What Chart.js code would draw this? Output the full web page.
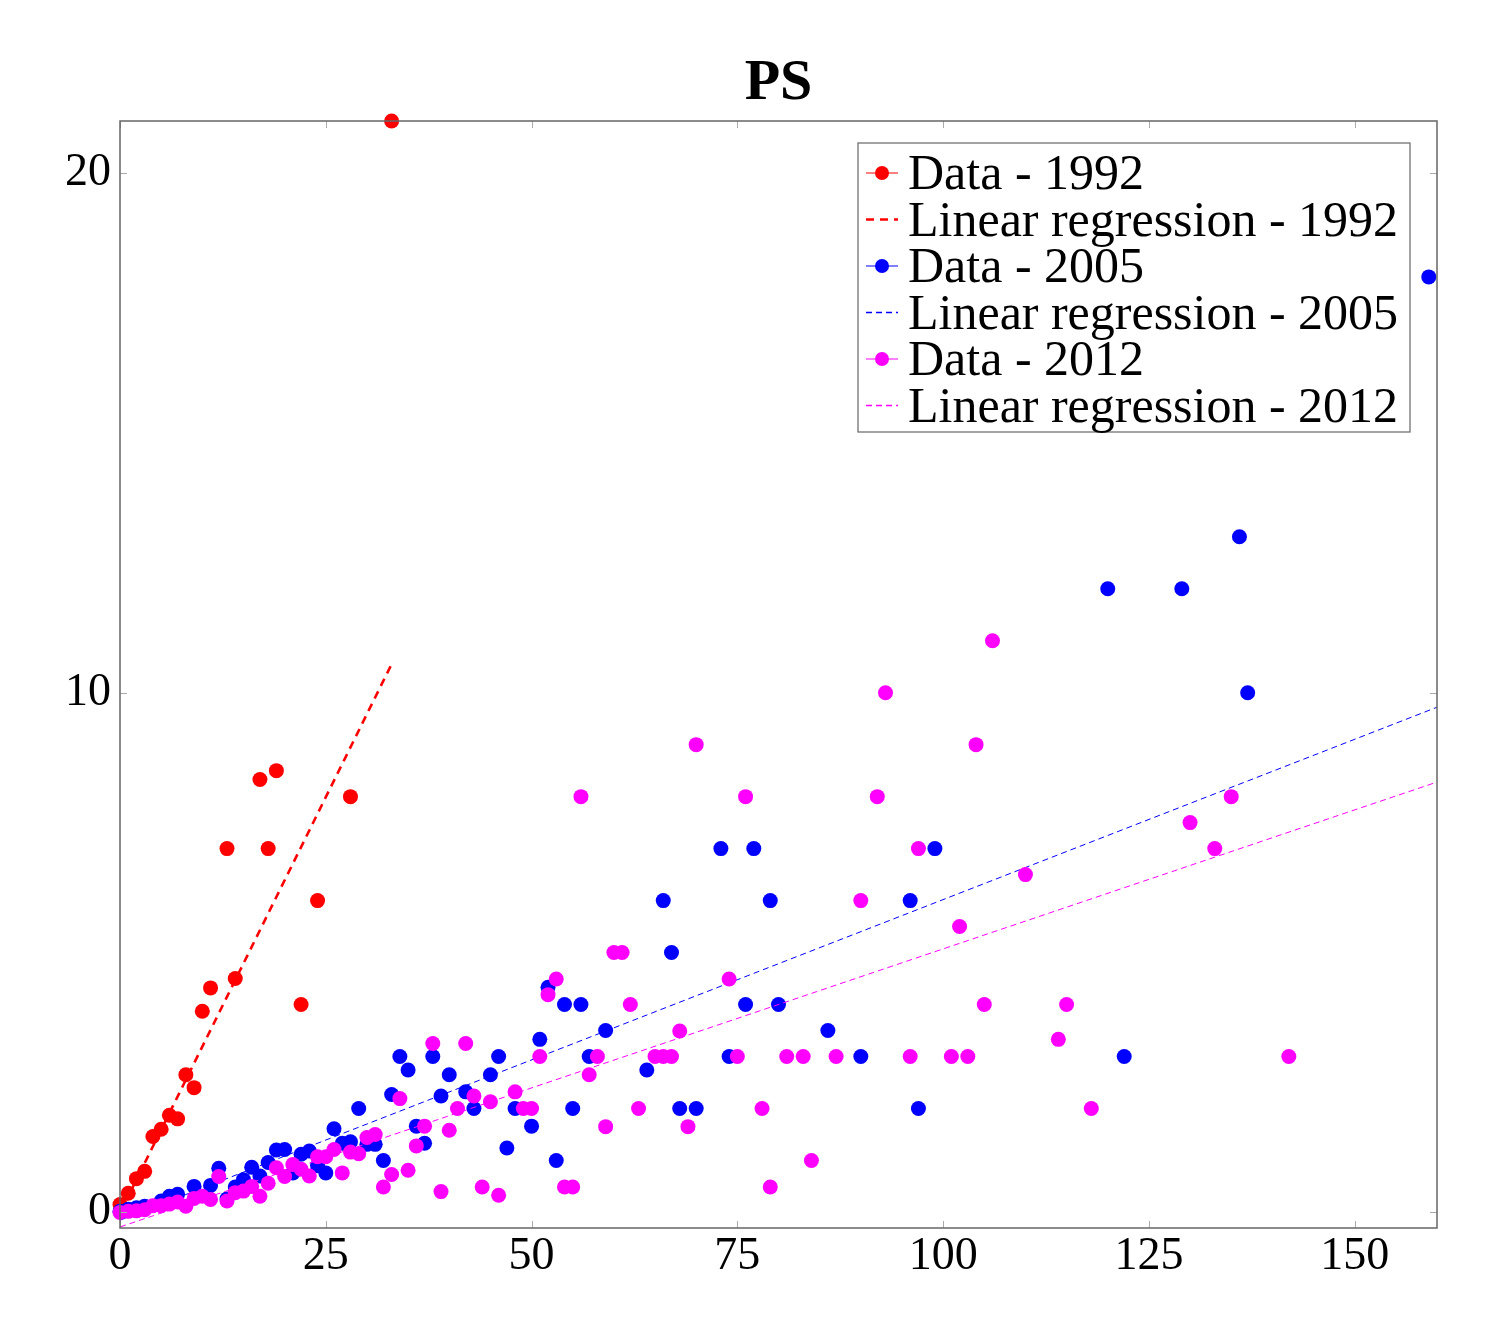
<!DOCTYPE html>
<html>
<head>
<meta charset="utf-8">
<title>PS</title>
<script src="https://cdn.jsdelivr.net/npm/chart.js@4.4.1/dist/chart.umd.min.js"></script>
<style>
  html, body { margin:0; padding:0; background:#fff; }
  #wrap { width:1497px; height:1336px; position:relative; }
</style>
</head>
<body>
<div id="wrap"><canvas id="myChart"></canvas></div>
<script>
// data
const x1992 = [0, 1, 2, 3, 4, 5, 6, 7, 8, 9, 10, 11, 13, 14, 17, 18, 19, 22, 24, 28, 33];
const y1992 = [0.15, 0.37, 0.65, 0.79, 1.46, 1.6, 1.87, 1.8, 2.65, 2.4, 3.87, 4.32, 7, 4.5, 8.33, 7, 8.5, 4, 6, 8, 21];

const x2005 = [0, 1, 2, 3, 5, 6, 7, 9, 11, 12, 13, 14, 15, 16, 17, 18, 19, 20, 21, 22, 23, 24, 25, 26, 27, 28, 29, 30,
  31, 32, 33, 34, 35, 36, 37, 38, 39, 40, 42, 43, 45, 46, 47, 48, 50, 51, 52, 53, 54, 55, 56, 57, 59, 64, 66, 67, 68,
  70, 73, 74, 76, 77, 79, 80, 86, 90, 96, 97, 99, 120, 122, 129, 136, 137, 159];
const y2005 = [0.02, 0.06, 0.09, 0.12, 0.22, 0.31, 0.35, 0.5, 0.52, 0.85, 0.26, 0.49, 0.63, 0.87, 0.7, 0.96, 1.2, 1.21,
  0.76, 1.12, 1.18, 0.9, 0.76, 1.61, 1.33, 1.36, 2, 1.31, 1.31, 1, 2.27, 3, 2.74, 1.66, 1.33, 3, 2.24, 2.65, 2.32, 2,
  2.65, 3, 1.24, 2, 1.66, 3.33, 4.33, 1, 4, 2, 4, 3, 3.5, 2.74, 6, 5, 2, 2, 7, 3, 4, 7, 6, 4, 3.5, 3, 6, 2, 7, 12, 3,
  12, 13, 10, 18];

const x2012 = [0, 1, 2, 3, 4, 5, 6, 7, 8, 9, 10, 11, 12, 13, 14, 15, 16, 17, 18, 19, 20, 21, 22, 23, 24, 25, 26, 27,
  28, 29, 30, 31, 32, 33, 34, 35, 36, 37, 38, 39, 40, 41, 42, 43, 44, 45, 46, 48, 49, 50, 51, 52, 53, 54, 55, 56, 57,
  58, 59, 60, 61, 62, 63, 65, 66, 67, 68, 69, 70, 74, 75, 76, 78, 79, 81, 83, 84, 87, 90, 92, 93, 96, 97, 101, 102,
  103, 104, 105, 106, 110, 114, 115, 118, 130, 133, 135, 142];
const y2012 = [0, 0.02, 0.03, 0.05, 0.13, 0.13, 0.16, 0.2, 0.12, 0.27, 0.31, 0.25, 0.69, 0.22, 0.38, 0.41, 0.5, 0.31,
  0.56, 0.86, 0.69, 0.92, 0.83, 0.7, 1.07, 1.07, 1.21, 0.76, 1.16, 1.13, 1.44, 1.5, 0.49, 0.73, 2.19, 0.81, 1.28, 1.66,
  3.25, 0.4, 1.58, 2, 3.25, 2.24, 0.49, 2.13, 0.33, 2.32, 2, 2, 3, 4.19, 4.49, 0.49, 0.49, 8, 2.65, 3, 1.65, 5, 5, 4,
  2, 3, 3, 3, 3.49, 1.65, 9, 4.49, 3, 8, 2, 0.49, 3, 3, 1, 3, 6, 8, 10, 3, 7, 3, 5.5, 3, 9, 4, 11, 6.5, 3.33, 4, 2,
  7.5, 7, 8, 3];

// regression line end points
const regX1992 = [0, 33];
const regY1992 = [-0.01, 10.55];
const regX2005 = [0, 160];
const regY2005 = [-0.15, 9.72];
const regX2012 = [0, 160];
const regY2012 = [-0.28, 8.28];

const xTicks = [0, 25, 50, 75, 100, 125, 150];
const yTicks = [0, 10, 20];

const seriesLabels = ["Data - 1992", "Linear regression - 1992", "Data - 2005",
  "Linear regression - 2005", "Data - 2012", "Linear regression - 2012"];

function toPoints(xs, ys){
  let pts = [];
  for(let i=0; i<xs.length; i++){
    pts.push({x: xs[i], y: ys[i]});
  }
  return pts;
}

const FONT = "'Liberation Serif', 'Times New Roman', serif";

// ticks pointing inwards on all four sides + box
const frameTicks = {
  id: 'frameTicks',
  afterDraw(chart){
    const ctx = chart.ctx;
    const a = chart.chartArea;
    const xs = chart.scales.x, ys = chart.scales.y;
    ctx.save();
    ctx.strokeStyle = '#aaaaaa';
    ctx.lineWidth = 1;
    ctx.beginPath();
    xTicks.forEach(v=>{
      let px = Math.round(xs.getPixelForValue(v)) + 0.5;
      ctx.moveTo(px, a.bottom); ctx.lineTo(px, a.bottom - 7);
      ctx.moveTo(px, a.top); ctx.lineTo(px, a.top + 7);
    });
    yTicks.forEach(v=>{
      let py = Math.round(ys.getPixelForValue(v)) + 0.5;
      ctx.moveTo(a.left, py); ctx.lineTo(a.left + 7, py);
      ctx.moveTo(a.right, py); ctx.lineTo(a.right - 7, py);
    });
    ctx.stroke();
    ctx.strokeStyle = '#666666';
    ctx.lineWidth = 1.5;
    ctx.strokeRect(a.left, a.top, a.right - a.left, a.bottom - a.top);
    ctx.restore();
  }
};

// legend box in the upper right corner, like pgfplots
const boxLegend = {
  id: 'boxLegend',
  afterDraw(chart){
    const ctx = chart.ctx;
    const a = chart.chartArea;
    const w = 552, h = 289;
    const left = a.right - 27 - w, top = a.top + 22;
    ctx.save();
    ctx.fillStyle = '#ffffff';
    ctx.fillRect(left, top, w, h);
    ctx.strokeStyle = '#666666';
    ctx.lineWidth = 1.2;
    ctx.strokeRect(left, top, w, h);
    const rowH = 46.5;
    chart.data.datasets.forEach((ds, i)=>{
      let cy = top + 30 + i*rowH;
      ctx.strokeStyle = ds.borderColor;
      if(ds.showLine){
        ctx.lineWidth = Math.max(ds.borderWidth, 1.3);
        ctx.setLineDash(ds.borderDash);
        ctx.beginPath();
        ctx.moveTo(left + 8, cy); ctx.lineTo(left + 40, cy);
        ctx.stroke();
        ctx.setLineDash([]);
      } else {
        ctx.lineWidth = 1;
        ctx.beginPath();
        ctx.moveTo(left + 8, cy); ctx.lineTo(left + 40, cy);
        ctx.stroke();
        ctx.fillStyle = ds.backgroundColor;
        ctx.beginPath();
        ctx.arc(left + 24, cy, 7, 0, Math.PI*2);
        ctx.fill();
      }
      ctx.fillStyle = '#000';
      ctx.font = "50px " + FONT;
      ctx.textBaseline = 'alphabetic';
      ctx.fillText(ds.label, left + 50, cy + 16);
    });
    ctx.restore();
  }
};

function dataSet(label, xs, ys, color, order){
  return {
    label: label,
    data: toPoints(xs, ys),
    backgroundColor: color,
    borderColor: color,
    pointRadius: 7.5,
    pointHoverRadius: 7.5,
    pointBorderWidth: 0,
    showLine: false,
    clip: false,
    order: order
  };
}

function regSet(label, xs, ys, color, width, dash, order){
  return {
    label: label,
    data: toPoints(xs, ys),
    borderColor: color,
    backgroundColor: color,
    borderWidth: width,
    borderDash: dash,
    pointRadius: 0,
    showLine: true,
    order: order
  };
}

const mychart = document.getElementById('myChart').getContext('2d');
const result = new Chart(mychart, {
  type: 'scatter',
  data: {
    datasets: [
      dataSet(seriesLabels[0], x1992, y1992, '#ff0000', 6),
      regSet(seriesLabels[1], regX1992, regY1992, '#ff0000', 2.6, [8, 6], 5),
      dataSet(seriesLabels[2], x2005, y2005, '#0000ff', 4),
      regSet(seriesLabels[3], regX2005, regY2005, '#0000ff', 1, [6, 4], 3),
      dataSet(seriesLabels[4], x2012, y2012, '#ff00ff', 2),
      regSet(seriesLabels[5], regX2012, regY2012, '#ff00ff', 1, [6, 4], 1)
    ]
  },
  options: {
    responsive: true,
    maintainAspectRatio: false,
    animation: false,
    layout: { padding: { left: 0, right: 60, top: 0, bottom: 0 } },
    plugins: {
      legend: { display: false },
      tooltip: { enabled: false },
      title: {
        display: true,
        fullSize: false,
        text: 'PS',
        color: '#000',
        font: { family: FONT, size: 58, weight: 'bold', lineHeight: 1.2 },
        padding: { top: 49, bottom: 2.4 }
      }
    },
    scales: {
      x: {
        type: 'linear',
        min: 0,
        max: 160,
        grid: { display: false, drawTicks: false },
        border: { display: false },
        afterBuildTicks: s => { s.ticks = xTicks.map(v => ({ value: v })); },
        afterFit: s => { s.height = 108; },
        ticks: {
          color: '#000',
          padding: 1,
          maxRotation: 0,
          font: { family: FONT, size: 46 }
        }
      },
      y: {
        type: 'linear',
        min: -0.3,
        max: 21,
        grid: { display: false, drawTicks: false },
        border: { display: false },
        afterBuildTicks: s => { s.ticks = yTicks.map(v => ({ value: v })); },
        afterFit: s => { s.width = 120; },
        ticks: {
          color: '#000',
          padding: 9,
          font: { family: FONT, size: 46 }
        }
      }
    }
  },
  plugins: [frameTicks, boxLegend]
});
</script>
</body>
</html>
